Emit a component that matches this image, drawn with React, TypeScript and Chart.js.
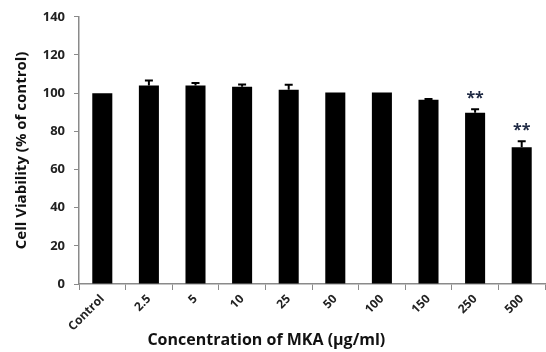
import React, { useEffect, useRef } from "react";
import { Chart, registerables } from "chart.js";

Chart.register(...registerables);

const categories = ["Control", "2.5", "5", "10", "25", "50", "100", "150", "250", "500"];
const viability = [100, 104, 104, 103.3, 101.8, 100.4, 100.4, 96.5, 89.7, 71.7];
const errors = [0, 2.6, 1.3, 1.2, 2.6, 0, 0, 0.4, 1.8, 3.1];
const significance = ["", "", "", "", "", "", "", "", "**", "**"];
const yTicks = [0, 20, 40, 60, 80, 100, 120, 140];

const FONT = "'Open Sans', sans-serif";

const errorBarPlugin = {
  id: "errorBars",
  afterDatasetsDraw(chart: any) {
    const ctx = chart.ctx;
    const meta = chart.getDatasetMeta(0);
    const yScale = chart.scales.y;
    ctx.save();
    meta.data.forEach((bar: any, i: number) => {
      const v = viability[i];
      const e = errors[i];
      const x = bar.x;
      const yTop = yScale.getPixelForValue(v + e);
      const yBar = yScale.getPixelForValue(v);
      if (e > 0) {
        ctx.strokeStyle = "#000";
        ctx.lineWidth = 2;
        ctx.beginPath();
        ctx.moveTo(x, yBar);
        ctx.lineTo(x, yTop);
        ctx.moveTo(x - 4, yTop);
        ctx.lineTo(x + 4, yTop);
        ctx.stroke();
      }
      if (significance[i]) {
        ctx.fillStyle = "#1f2a44";
        ctx.font = `bold 16px ${FONT}`;
        ctx.textAlign = "center";
        ctx.textBaseline = "middle";
        ctx.fillText(significance[i], x, yTop - 11);
      }
    });
    ctx.restore();
  },
};

const xTitlePlugin = {
  id: "xTitle",
  afterDraw(chart: any) {
    const ctx = chart.ctx;
    const area = chart.chartArea;
    ctx.save();
    ctx.fillStyle = "#111";
    ctx.font = `bold 16px ${FONT}`;
    ctx.textAlign = "center";
    ctx.textBaseline = "middle";
    const cx = area.left + (area.right - area.left) * 0.402;
    ctx.fillText("Concentration of MKA (\u00b5g/ml)", cx, chart.height - 12);
    ctx.restore();
  },
};

export default function App() {
  const ref = useRef<HTMLCanvasElement>(null);
  useEffect(() => {
    document.body.style.margin = "0";
    const chart = new Chart(ref.current!, {
      type: "bar",
      data: {
        labels: categories,
        datasets: [
          {
            data: viability,
            backgroundColor: "#000",
            borderWidth: 0,
            barPercentage: 0.43,
            categoryPercentage: 1,
          },
        ],
      },
      options: {
        animation: false,
        responsive: false,
        layout: { padding: { top: 16, right: 1, left: 0, bottom: 0 } },
        plugins: { legend: { display: false }, tooltip: { enabled: false } },
        scales: {
          x: {
            grid: {
              drawOnChartArea: false,
              color: "#8a8a8a",
              tickLength: 6,
              offset: true,
            },
            border: { color: "#8a8a8a", width: 1.5 },
            ticks: {
              color: "#222",
              font: { family: FONT, weight: "bold", size: 12 },
              maxRotation: 45,
              minRotation: 45,
              padding: 2,
            },
            afterFit(scale: any) {
              scale.height = 68;
            },
          },
          y: {
            min: 0,
            max: 140,
            afterBuildTicks(scale: any) {
              scale.ticks = yTicks.map((v) => ({ value: v }));
            },
            grid: { drawOnChartArea: false, color: "#8a8a8a", tickLength: 5 },
            border: { color: "#8a8a8a", width: 1.5 },
            ticks: {
              color: "#222",
              font: { family: FONT, weight: "bold", size: 13 },
              padding: 9,
            },
            title: {
              display: true,
              text: "Cell Viability (% of control)",
              color: "#111",
              font: { family: FONT, weight: "bold", size: 15 },
              padding: { top: 13, bottom: 0 },
            },
            afterFit(scale: any) {
              scale.width = 79;
            },
          },
        },
      },
      plugins: [errorBarPlugin, xTitlePlugin],
    });
    return () => chart.destroy();
  }, []);
  return <canvas ref={ref} width={546} height={352} style={{ display: "block" }} />;
}
